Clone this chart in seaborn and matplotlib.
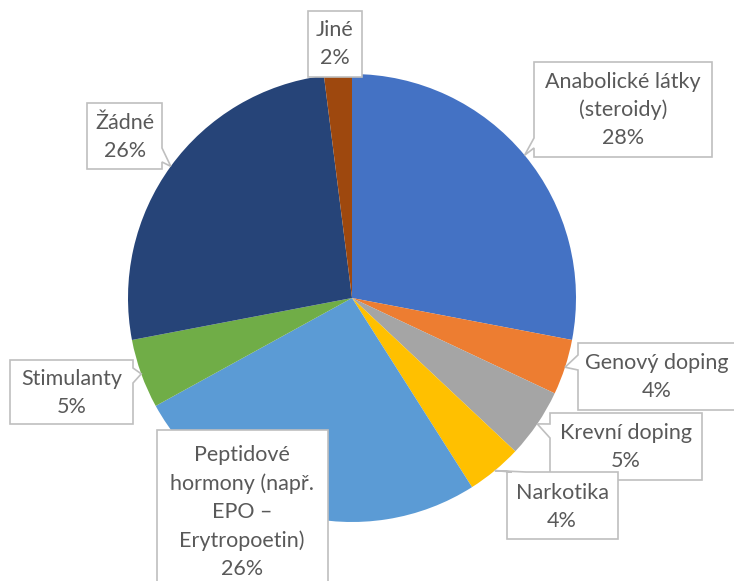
import numpy as np
import matplotlib.pyplot as plt
import seaborn as sns
from matplotlib.patches import Polygon

labels = ["Anabolické látky\n(steroidy)", "Genový doping", "Krevní doping", "Narkotika",
          "Peptidové\nhormony (např.\nEPO –\nErytropoetin)", "Stimulanty", "Žádné", "Jiné"]
shares = [28, 4, 5, 4, 26, 5, 26, 2]
colors = ["#4472C4", "#ED7D31", "#A5A5A5", "#FFC000",
          "#5B9BD5", "#70AD47", "#264478", "#9E480E"]

# callout boxes in pixels: (left, top, right, bottom), notch side, notch span, text centre
boxes = [
    ((534, 62, 712, 157), "left", (138, 148), (623, 110)),
    ((578, 343, 740, 410), "left", (355, 370), (657, 377)),
    ((550, 413, 702, 480), "left", (424, 438), (626, 447)),
    ((507, 472, 618, 539), "top", (512, 526), (562, 507)),
    ((157, 430, 328, 610), None, None, (242, 512)),
    ((10, 360, 133, 424), "right", (368, 383), (72, 393)),
    ((87, 103, 162, 169), "right", (148, 162), (125, 137)),
    ((308, 11, 362, 77), None, None, (335, 44)),
]

W, H = 734, 581
CX, CY, R = 352, 298, 224

sns.set_theme(style="white")
plt.rcParams["font.family"] = ["Lato", "DejaVu Sans"]

fig = plt.figure(figsize=(W / 100, H / 100), dpi=100)
ax = fig.add_axes([0, 0, 1, 1])

pal = sns.color_palette(colors)
ax.pie(shares, colors=pal, startangle=90, counterclock=False,
       center=(CX, H - CY), radius=R, wedgeprops=dict(linewidth=0))

# pointer tips sit on the rim at each slice's middle angle
cum = np.cumsum(shares)
mid = cum - np.array(shares) / 2
theta = np.deg2rad(90 - 360 * mid / sum(shares))
tips = [(CX + R * np.cos(t), CY - R * np.sin(t)) for t in theta]


def callout(box, side, span, tip):
    l, t, r, b = box
    if side == "left":
        pts = [(l, t), (r, t), (r, b), (l, b), (l, span[1]), tip, (l, span[0])]
    elif side == "right":
        pts = [(l, t), (r, t), (r, span[0]), tip, (r, span[1]), (r, b), (l, b)]
    elif side == "top":
        pts = [(l, t), (span[0], t), tip, (span[1], t), (r, t), (r, b), (l, b)]
    else:
        pts = [(l, t), (r, t), (r, b), (l, b)]
    return [(x, H - y) for x, y in pts]


for lab, s, (box, side, span, tc), tip in zip(labels, shares, boxes, tips):
    ax.add_patch(Polygon(callout(box, side, span, tip), closed=True,
                         facecolor="white", edgecolor="#BFBFBF", lw=1.2, zorder=3))
    ax.text(tc[0], H - tc[1], f"{lab}\n{s}%", ha="center", va="center",
            fontsize=15.5, color="#595959", linespacing=1.5, zorder=4)

ax.set_xlim(0, W)
ax.set_ylim(0, H)
ax.set_aspect("equal")
ax.axis("off")

fig.savefig("out.png", dpi=100)
